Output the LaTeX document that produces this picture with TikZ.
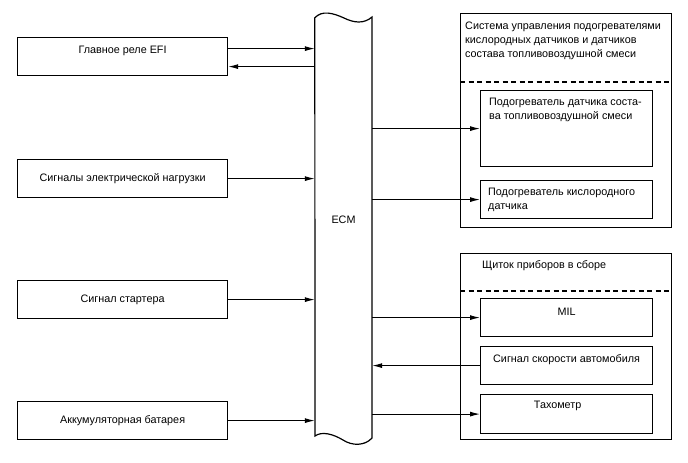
\documentclass[tikz,border=0pt]{standalone}
\usepackage{fontspec}
\setmainfont{Liberation Sans}
\usetikzlibrary{arrows.meta, positioning}

\begin{document}
\begin{tikzpicture}[x=1pt, y=-1pt,
          node distance=8pt,
          box/.style={rectangle, draw, line width=1.2pt, inner sep=0pt},
          lbox/.style={box, minimum width=210pt, minimum height=38pt,
                      font=\fontsize{10.8}{14}\selectfont},
          inbox/.style={box, minimum width=172pt, minimum height=38pt},
          txt/.style={inner sep=0pt, align=left, font=\fontsize{10.8}{14}\selectfont},
          sep/.style={line width=1.2pt, dash pattern=on 5pt off 3.5pt},
          arr/.style={-{Latex[length=10pt,width=5pt]}, line width=1pt}]
          \useasboundingbox (0,0) rectangle (688,463);
          % inputs
          \node[lbox, anchor=north west,
                label={[txt, yshift=6pt]center:Главное реле EFI}] (relay) at (17,37) {};
          \node[lbox, anchor=north west] (load)  at (17,159) {Сигналы электрической нагрузки};
          \node[lbox, anchor=north west] (start) at (17,280) {Сигнал стартера};
          \node[lbox, anchor=north west] (batt)  at (17,401) {Аккумуляторная батарея};
          % ECM
          \node[minimum width=57pt, minimum height=420pt, inner sep=0pt,
                label={[txt, yshift=8pt]center:ECM}] (ecm) at (343.5,228) {};
          \draw[line width=1.2pt] (ecm.north west)
                .. controls (322,10) and (333,13) .. (344,18)
                .. controls (354,23) and (364,24) .. (372,17)
                -- (372,438)
                .. controls (365,446) and (352,446) .. (343,440)
                .. controls (333,434) and (322,431) .. (315,436) -- cycle;
          % heater control
          \node[box, minimum width=211pt, minimum height=214pt, anchor=north west] (heatsys) at (460,13) {};
          \node[txt, below right=9pt and 5pt of heatsys.north west] (heattitle)
                {Система управления подогревателями\\кислородных датчиков и датчиков\\состава топливовоздушной смеси};
          \draw[sep] ([yshift=-69pt]heatsys.north west) -- ([yshift=-69pt]heatsys.north east);
          \node[inbox, minimum height=76pt, anchor=north west] (afheat) at (480,90) {};
          \node[txt, below right=8pt and 9pt of afheat.north west] (afheattxt)
                {Подогреватель датчика соста-\\ва топливовоздушной смеси};
          \node[inbox, anchor=north west] (oxheat) at (480,180) {};
          \node[txt, below right=8pt and 8pt of oxheat.north west] (oxheattxt)
                {Подогреватель кислородного\\датчика};
          % combination meter
          \node[box, minimum width=211pt, minimum height=186pt, anchor=north west] (meter) at (460,253) {};
          \node[txt, below right=7pt and 22pt of meter.north west] (metertitle) {Щиток приборов в сборе};
          \draw[sep] ([yshift=-38pt]meter.north west) -- ([yshift=-38pt]meter.north east);
          \node[inbox, anchor=north west] (mil) at (480,298) {};
          \node[txt, below=10pt of mil.north] (miltxt) {MIL};
          \node[inbox, anchor=north west] (vss) at (480,346) {};
          \node[txt, below=8pt of vss.north] (vsstxt) {Сигнал скорости автомобиля};
          \node[inbox, minimum height=39pt, anchor=north west] (tacho) at (480,394) {};
          \node[txt, below=7pt of tacho.north, xshift=-9pt] (tachotxt) {Тахометр};
          % connections
          \draw[arr] ([yshift=8pt]relay.east) -- ([yshift=8pt]relay.east -| ecm.west);
          \draw[arr] ([yshift=-10pt]relay.east -| ecm.west) -- ([yshift=-10pt]relay.east);
          \draw[arr] (load.east) -- (load.east -| ecm.west);
          \draw[arr] (start.east) -- (start.east -| ecm.west);
          \draw[arr] (batt.east) -- (batt.east -| ecm.west);
          \draw[arr] (afheat.west -| ecm.east) -- (afheat.west);
          \draw[arr] (oxheat.west -| ecm.east) -- (oxheat.west);
          \draw[arr] (mil.west -| ecm.east) -- (mil.west);
          \draw[arr] (vss.west) -- (vss.west -| ecm.east);
          \draw[arr] (tacho.west -| ecm.east) -- (tacho.west);
        \end{tikzpicture}
\end{document}
